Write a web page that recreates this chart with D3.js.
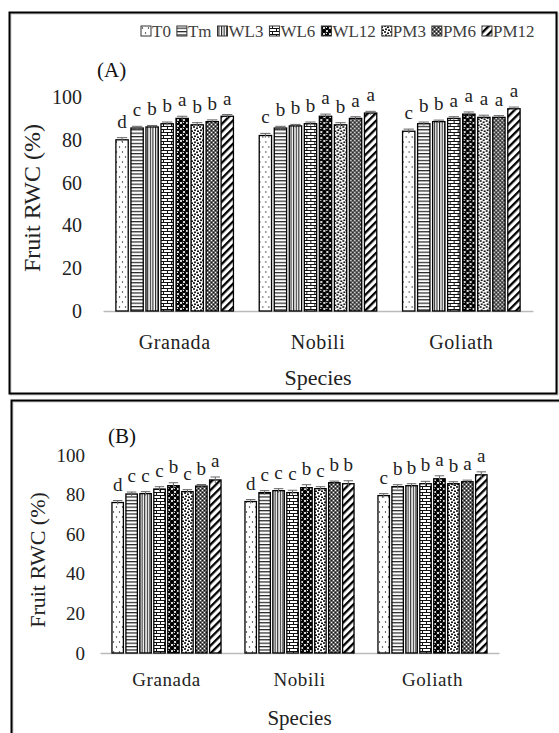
<!DOCTYPE html>
<html>
<head>
<meta charset="utf-8">
<script src="https://cdn.jsdelivr.net/npm/d3@7"></script>
<style>
  body { margin: 0; background: #fff; }
</style>
</head>
<body>
<div class="viz"></div>
<script>
const width = 559;
const height = 733;
const serif = "'Liberation Serif', 'Times New Roman', Times, serif";

// categories + treatments
const species = ["Granada", "Nobili", "Goliath"];
const treatments = ["T0", "Tm", "WL3", "WL6", "WL12", "PM3", "PM6", "PM12"];
const yTicks = [0, 20, 40, 60, 80, 100];

// panel (A) values
const granadaA = [80, 85.5, 86, 87.5, 90, 87, 88.5, 91];
const nobiliA = [82, 85.5, 86.5, 87.5, 91, 87, 90, 92.5];
const goliathA = [84, 87.5, 88.5, 90, 92, 90.5, 90.5, 94.5];
const errA = [1, 0.8, 0.7, 0.8, 1, 1, 0.8, 0.8];
const lettersGranadaA = ["d", "c", "b", "b", "a", "b", "b", "a"];
const lettersNobiliA = ["c", "b", "b", "b", "a", "b", "a", "a"];
const lettersGoliathA = ["c", "b", "b", "a", "a", "a", "a", "a"];

// panel (B) values
const granadaB = [76, 80.3, 80.5, 82.8, 84.5, 81.5, 84.3, 87.4];
const nobiliB = [76.5, 81, 82, 81, 83.5, 83, 86, 85.5];
const goliathB = [79.5, 84, 84.5, 85.5, 88, 85.5, 86.5, 90];
const errB = [1, 1, 1, 1.2, 1.5, 1, 0.8, 1.5];
const lettersGranadaB = ["d", "c", "c", "c", "b", "c", "b", "a"];
const lettersNobiliB = ["d", "c", "c", "c", "b", "c", "b", "b"];
const lettersGoliathB = ["c", "b", "b", "b", "a", "b", "a", "a"];

const svg = d3.select(".viz")
    .append("svg")
    .attr("width", width)
    .attr("height", height)
    .style("font-family", serif);

// ---- fill patterns (excel style)
const defs = svg.append("defs");

function pat(id, w, h) {
    return defs.append("pattern")
        .attr("id", id)
        .attr("patternUnits", "userSpaceOnUse")
        .attr("width", w)
        .attr("height", h);
}

let p = pat("p-T0", 6, 10);
p.append("rect").attr("width", 6).attr("height", 10).attr("fill", "#fff");
p.append("circle").attr("cx", 1.5).attr("cy", 2).attr("r", 0.7).attr("fill", "#222");
p.append("circle").attr("cx", 4.5).attr("cy", 7).attr("r", 0.7).attr("fill", "#222");

p = pat("p-Tm", 4, 3.4);
p.append("rect").attr("width", 4).attr("height", 3.4).attr("fill", "#fff");
p.append("rect").attr("width", 4).attr("height", 1.2).attr("fill", "#222");

p = pat("p-WL3", 2.6, 4);
p.append("rect").attr("width", 2.6).attr("height", 4).attr("fill", "#fff");
p.append("rect").attr("width", 1.1).attr("height", 4).attr("fill", "#222");

p = pat("p-WL6", 8, 6);
p.append("rect").attr("width", 8).attr("height", 6).attr("fill", "#fff");
p.append("rect").attr("y", 0).attr("width", 8).attr("height", 1).attr("fill", "#111");
p.append("rect").attr("y", 3).attr("width", 8).attr("height", 1).attr("fill", "#111");
p.append("rect").attr("x", 0).attr("y", 0).attr("width", 1).attr("height", 3).attr("fill", "#111");
p.append("rect").attr("x", 4).attr("y", 3).attr("width", 1).attr("height", 3).attr("fill", "#111");

p = pat("p-WL12", 6, 6);
p.append("rect").attr("width", 6).attr("height", 6).attr("fill", "#fff");
[[0, 0], [6, 0], [0, 6], [6, 6], [3, 3]].forEach(([cx, cy]) => {
    p.append("circle").attr("cx", cx).attr("cy", cy).attr("r", 2.2).attr("fill", "#000");
});
p.append("circle").attr("cx", 2.4).attr("cy", 2.4).attr("r", 0.6).attr("fill", "#fff");

p = pat("p-PM3", 6, 6);
p.append("rect").attr("width", 6).attr("height", 6).attr("fill", "#fff");
[[1, 1], [4, 2.2], [2, 4.2], [5, 5.3]].forEach(([cx, cy]) => {
    p.append("circle").attr("cx", cx).attr("cy", cy).attr("r", 1).attr("fill", "#000");
});

p = pat("p-PM6", 4, 4);
p.append("rect").attr("width", 4).attr("height", 4).attr("fill", "#666");
p.append("rect").attr("x", 0).attr("y", 0).attr("width", 1).attr("height", 1).attr("fill", "#fff");
p.append("rect").attr("x", 2).attr("y", 2).attr("width", 1).attr("height", 1).attr("fill", "#fff");
p.append("rect").attr("x", 2).attr("y", 0).attr("width", 1).attr("height", 1).attr("fill", "#111");
p.append("rect").attr("x", 0).attr("y", 2).attr("width", 1).attr("height", 1).attr("fill", "#111");

p = pat("p-PM12", 5.5, 5.5).attr("patternTransform", "rotate(45)");
p.append("rect").attr("width", 5.5).attr("height", 5.5).attr("fill", "#fff");
p.append("rect").attr("width", 2.3).attr("height", 5.5).attr("fill", "#000");

// ---- panels
const panels = [
    {
        label: "(A)",
        values: [granadaA, nobiliA, goliathA],
        err: errA,
        letters: [lettersGranadaA, lettersNobiliA, lettersGoliathA],
        frame: { x: 9.5, y: 12.5, w: 547, h: 381 },
        x0: 103, x1: 533, y0: 311, y1: 97, tickX: 82,
        titleX: 97, titleY: 77,
        ylabX: 33, ylabY: 198, ylabSize: 24,
        catY: 349, specY: 385, fs: 20
    },
    {
        label: "(B)",
        values: [granadaB, nobiliB, goliathB],
        err: errB,
        letters: [lettersGranadaB, lettersNobiliB, lettersGoliathB],
        frame: { x: 11.5, y: 400.5, w: 560, h: 345 },
        x0: 100, x1: 499, y0: 653, y1: 455, tickX: 85,
        titleX: 108, titleY: 443,
        ylabX: 38, ylabY: 560, ylabSize: 22,
        catY: 686, specY: 725, fs: 19
    }
];

panels.forEach(cfg => {
    const g = svg.append("g");

    // frame with soft shadow
    g.append("rect")
        .attr("x", cfg.frame.x + 1).attr("y", cfg.frame.y + 1)
        .attr("width", cfg.frame.w).attr("height", cfg.frame.h)
        .attr("fill", "none").attr("stroke", "#ccc").attr("stroke-width", 2);
    g.append("rect")
        .attr("x", cfg.frame.x).attr("y", cfg.frame.y)
        .attr("width", cfg.frame.w).attr("height", cfg.frame.h)
        .attr("fill", "none").attr("stroke", "#000").attr("stroke-width", 2);

    const x = d3.scaleBand().domain(species).range([cfg.x0, cfg.x1]);
    const xIn = d3.scaleBand().domain(treatments)
        .range([x.bandwidth() * 0.09, x.bandwidth() * 0.91])
        .paddingInner(0.18);
    const y = d3.scaleLinear().domain([0, 100]).range([cfg.y0, cfg.y1]);

    // y tick labels (no axis line)
    const yAxis = g.append("g")
        .attr("transform", `translate(${cfg.tickX},0)`)
        .call(d3.axisLeft(y).tickValues(yTicks).tickSize(0).tickPadding(0));
    yAxis.attr("font-family", serif).attr("font-size", cfg.fs);
    yAxis.select(".domain").remove();
    yAxis.selectAll("text")
        .style("font-family", serif)
        .style("font-size", cfg.fs + "px")
        .attr("fill", "#222");

    // baseline
    const xAxis = g.append("g")
        .attr("transform", `translate(0,${cfg.y0})`)
        .call(d3.axisBottom(x).tickSize(0).tickFormat(""));
    xAxis.select(".domain").attr("stroke", "#bbb").attr("stroke-width", 1.5);

    // bars
    species.forEach((sp, i) => {
        const grp = g.append("g").attr("transform", `translate(${x(sp)},0)`);
        const rows = treatments.map((t, j) => ({
            t, v: cfg.values[i][j], e: cfg.err[j], l: cfg.letters[i][j]
        }));

        grp.selectAll(".bar")
            .data(rows)
            .enter()
            .append("rect")
            .attr("class", "bar")
            .attr("x", d => xIn(d.t))
            .attr("y", d => y(d.v))
            .attr("width", xIn.bandwidth())
            .attr("height", d => y(0) - y(d.v))
            .attr("fill", d => `url(#p-${d.t})`)
            .attr("stroke", "#000")
            .attr("stroke-width", 1.3);

        // error bars
        const eb = grp.selectAll(".err")
            .data(rows)
            .enter()
            .append("g")
            .attr("stroke", "#666")
            .attr("stroke-width", 1);
        eb.append("line")
            .attr("x1", d => xIn(d.t) + xIn.bandwidth() / 2)
            .attr("x2", d => xIn(d.t) + xIn.bandwidth() / 2)
            .attr("y1", d => y(d.v - d.e))
            .attr("y2", d => y(d.v + d.e));
        eb.append("line")
            .attr("x1", d => xIn(d.t) + 1)
            .attr("x2", d => xIn(d.t) + xIn.bandwidth() - 1)
            .attr("y1", d => y(d.v + d.e))
            .attr("y2", d => y(d.v + d.e));

        // significance letters
        grp.selectAll(".let")
            .data(rows)
            .enter()
            .append("text")
            .attr("x", d => xIn(d.t) + xIn.bandwidth() / 2)
            .attr("y", d => y(d.v + d.e) - 10)
            .attr("text-anchor", "middle")
            .style("font-family", serif)
            .style("font-size", "19px")
            .attr("fill", "#222")
            .text(d => d.l);
    });

    // category labels
    g.selectAll(".cat")
        .data(species)
        .enter()
        .append("text")
        .attr("x", d => x(d) + x.bandwidth() / 2)
        .attr("y", cfg.catY)
        .attr("text-anchor", "middle")
        .style("font-family", serif)
        .style("font-size", cfg.fs + "px")
        .style("letter-spacing", "0.6px")
        .attr("fill", "#222")
        .text(d => d);

    g.append("text")
        .attr("x", (cfg.x0 + cfg.x1) / 2)
        .attr("y", cfg.specY)
        .attr("text-anchor", "middle")
        .style("font-family", serif)
        .style("font-size", (cfg.fs + 2) + "px")
        .attr("fill", "#222")
        .text("Species");

    g.append("text")
        .attr("transform", `translate(${cfg.ylabX + 7},${cfg.ylabY}) rotate(-90)`)
        .attr("text-anchor", "middle")
        .style("font-family", serif)
        .style("font-size", cfg.ylabSize + "px")
        .attr("fill", "#222")
        .text("Fruit RWC (%)");

    g.append("text")
        .attr("x", cfg.titleX)
        .attr("y", cfg.titleY)
        .style("font-family", serif)
        .style("font-size", "21px")
        .attr("fill", "#111")
        .text(cfg.label);
});

// legend (top of panel A)
const legend = svg.append("g").attr("transform", "translate(0,31)");
let lx = 141;
treatments.forEach(t => {
    legend.append("rect")
        .attr("x", lx).attr("y", -5)
        .attr("width", 10).attr("height", 10)
        .attr("fill", `url(#p-${t})`)
        .attr("stroke", "#333").attr("stroke-width", 1);
    const txt = legend.append("text")
        .attr("x", lx + 11)
        .attr("y", 6)
        .style("font-family", serif)
        .style("font-size", "17px")
        .attr("fill", "#404040")
        .text(t);
    lx += 11 + txt.node().getComputedTextLength() + 6;
});
</script>
</body>
</html>
